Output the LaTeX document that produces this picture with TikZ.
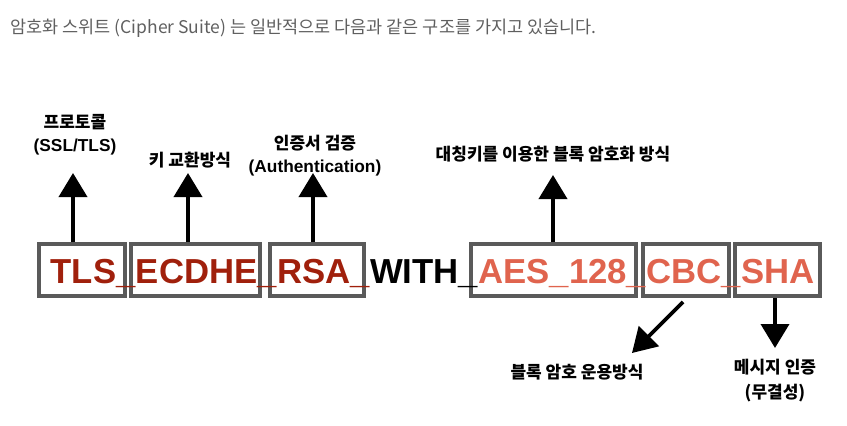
\documentclass[tikz,border=0pt]{standalone}
\usepackage{fontspec}
\setmainfont{Liberation Sans}
\newfontfamily\kr{Noto Sans CJK KR}
\usetikzlibrary{arrows.meta}
\definecolor{darkred}{RGB}{160,32,12}
\definecolor{coral}{RGB}{224,100,78}
\definecolor{boxgray}{RGB}{90,90,90}
\definecolor{titlegray}{RGB}{95,95,95}
\tikzset{
  seg/.style={anchor=base west, inner sep=0pt, font=\fontsize{34.7}{36}\selectfont\bfseries},
  segbox/.style={draw=boxgray, line width=4pt, inner sep=0pt, fill=none},
  krlabel/.style={inner sep=0pt, font=\kr\fontsize{17}{19}\selectfont\bfseries},
  enlabel/.style={inner sep=0pt, font=\fontsize{17.3}{19}\selectfont\bfseries},
  arr/.style={line width=3.8pt, -{Triangle[width=28pt,length=24pt]}},
}
\begin{document}
\begin{tikzpicture}[x=1pt,y=-1pt]
\useasboundingbox (0,0) rectangle (847,426);
% title
\node[anchor=west, inner sep=0pt, text=titlegray, font=\kr\fontsize{17.5}{19}\selectfont] (title) at (10,28) {암호화 스위트 (Cipher Suite) 는 일반적으로 다음과 같은 구조를 가지고 있습니다.};
% boxes
\node[segbox, minimum width=86pt, minimum height=52pt] (b1) at (82,270) {};
\node[segbox, minimum width=129pt, minimum height=52pt] (b2) at (195.5,270) {};
\node[segbox, minimum width=94pt, minimum height=52pt] (b3) at (317,270) {};
\node[segbox, minimum width=165pt, minimum height=52pt] (b4) at (553.5,270) {};
\node[segbox, minimum width=86pt, minimum height=52pt] (b5) at (686,270) {};
\node[segbox, minimum width=85pt, minimum height=52pt] (b6) at (777.5,270) {};
% text
\node[seg, text=darkred] (t1) at (50.5,283) {TLS\_};
\node[seg, text=darkred] (t2) at (t1.base east) {ECDHE\_};
\node[seg, text=darkred] (t3) at (t2.base east) {RSA\_};
\node[seg, text=black] (t4) at (t3.base east) {WITH\_};
\node[seg, text=coral] (t5) at (t4.base east) {AES\_128\_};
\node[seg, text=coral] (t6) at (t5.base east) {CBC\_};
\node[seg, text=coral] (t7) at (t6.base east) {SHA};
% labels
\node[krlabel] (l1a) at (75,122) {프로토콜};
\node[enlabel] (l1b) at (75,147) {(SSL/TLS)};
\node[krlabel] (l2) at (190,160) {키 교환방식};
\node[krlabel] (l3a) at (315,143) {인증서 검증};
\node[enlabel] (l3b) at (315,168) {(Authentication)};
\node[krlabel] (l4) at (553,154) {대칭키를 이용한 블록 암호화 방식};
\node[krlabel] (l5) at (577,372) {블록 암호 운용방식};
\node[krlabel] (l6a) at (775,367) {메시지 인증};
\node[krlabel] (l6b) at (775,393) {(무결성)};
% arrow tips
\coordinate (p1) at (73,173);
\coordinate (p2) at (188,173);
\coordinate (p3) at (313,173);
\coordinate (p4) at (553,175);
\coordinate (p5s) at (683,302);
\coordinate (p5) at (632,353);
\coordinate (p6) at (775,348);
% arrows
\draw[arr] (b1.north -| p1) -- (p1);
\draw[arr] (b2.north -| p2) -- (p2);
\draw[arr] (b3.north -| p3) -- (p3);
\draw[arr] (b4.north -| p4) -- (p4);
\draw[arr] (p5s) -- (p5);
\draw[arr] (b6.south -| p6) -- (p6);
\end{tikzpicture}
\end{document}
